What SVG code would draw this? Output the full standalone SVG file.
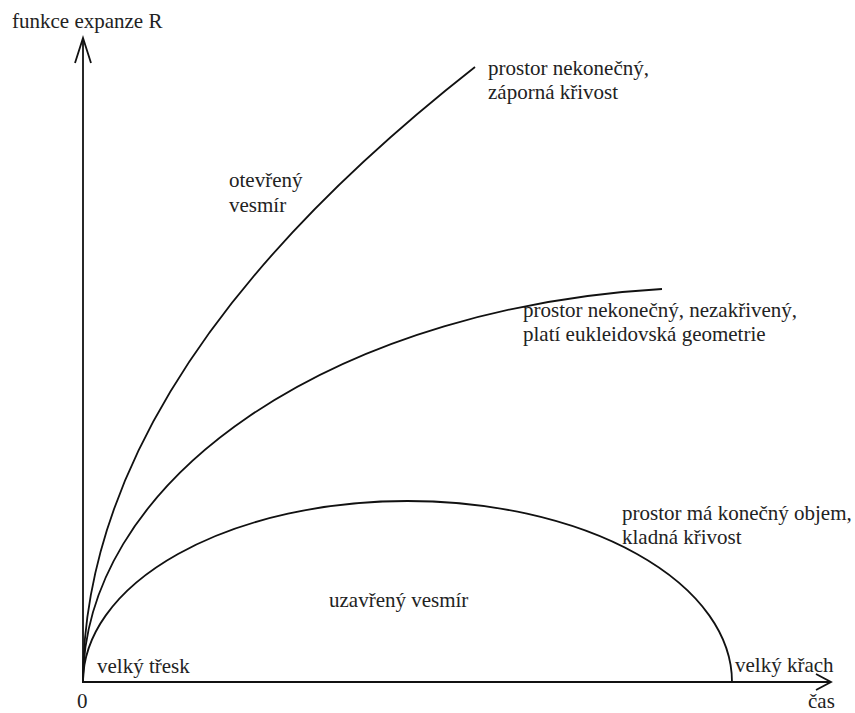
<svg xmlns="http://www.w3.org/2000/svg" width="855" height="713" viewBox="0 0 855 713">
<style>
text{font-family:'Liberation Serif','DejaVu Serif',serif;font-size:21px;fill:#222}
.ax{fill:none;stroke:#111;stroke-width:1.8}
.cv{fill:none;stroke:#111;stroke-width:1.8}
</style>
<rect width="855" height="713" fill="#fff"/>
<g id="axes">
<line class="ax" x1="83" y1="683" x2="83" y2="38"/>
<polyline class="ax" points="75,63 83,38 91,63"/>
<line class="ax" x1="82" y1="682" x2="831" y2="682"/>
<polyline class="ax" points="816,674 831,682 816,690"/>
</g>
<g id="connectors">
<path id="open" class="cv" d="M83,682 Q83,374.5 475,67"/>
<path id="flat" class="cv" d="M83,682 A637,394.7 0 0 1 662,289"/>
<path id="closed" class="cv" d="M83,682 A324.5,181 0 0 1 732,682"/>
</g>
<g id="labels" font-family="'Liberation Serif', serif">
<text x="12" y="28">funkce expanze R</text>
<text x="488" y="75">prostor nekonečný,</text>
<text x="488" y="99">záporná křivost</text>
<text x="229" y="187">otevřený</text>
<text x="229" y="212">vesmír</text>
<text x="523" y="317">prostor nekonečný, nezakřivený,</text>
<text x="523" y="341">platí eukleidovská geometrie</text>
<text x="622" y="520">prostor má konečný objem,</text>
<text x="622" y="544">kladná křivost</text>
<text x="329" y="607">uzavřený vesmír</text>
<text x="97" y="673">velký třesk</text>
<text x="735" y="672">velký křach</text>
<text x="77" y="708">0</text>
<text x="808" y="708">čas</text>
</g>
</svg>
